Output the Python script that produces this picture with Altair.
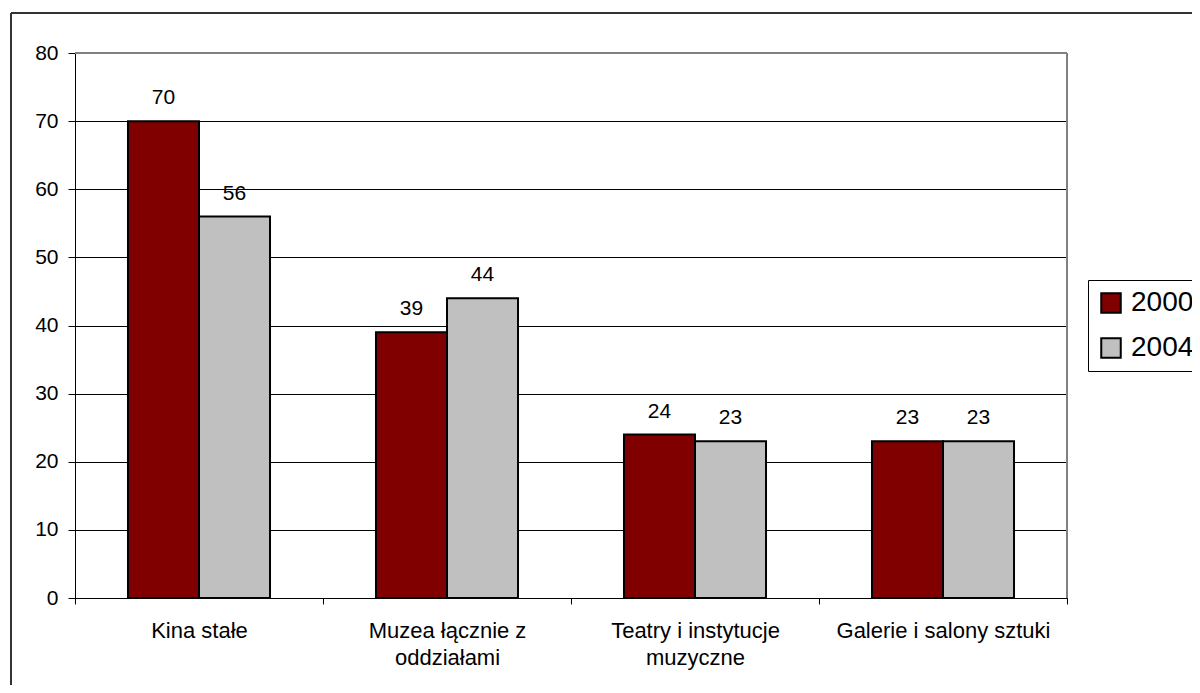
import altair as alt
import pandas as pd

categories = ["Kina stałe", "Muzea łącznie z\noddziałami", "Teatry i instytucje\nmuzyczne", "Galerie i salony sztuki"]
years = ["2000", "2004"]
values_2000 = [70, 39, 24, 23]
values_2004 = [56, 44, 23, 23]
colors = ["#800000", "#C0C0C0"]
y_ticks = [0, 10, 20, 30, 40, 50, 60, 70, 80]

rows = []
for c, a, b in zip(categories, values_2000, values_2004):
    rows.append({"cat": c, "year": years[0], "value": a})
    rows.append({"cat": c, "year": years[1], "value": b})
df = pd.DataFrame(rows)

W, H = 992, 545
FONT = "Liberation Sans"

x_enc = alt.X(
    "cat:N",
    sort=categories,
    scale=alt.Scale(paddingInner=0, paddingOuter=0),
    axis=alt.Axis(
        title=None,
        labelAngle=0,
        labelExpr="split(datum.label, '\\n')",
        tickBand="extent",
        tickSize=6,
        tickColor="black",
        domainColor="black",
        labelPadding=16,
        labelFontSize=22,
        labelFont=FONT,
        labelColor="black",
        labelLineHeight=27,
        labelBaseline="top",
        labelLimit=400,
    ),
)
xoff = alt.XOffset("year:N", sort=years, scale=alt.Scale(paddingInner=0, paddingOuter=0.746))
y_enc = alt.Y(
    "value:Q",
    scale=alt.Scale(domain=[0, 80], nice=False),
    axis=alt.Axis(
        title=None,
        values=y_ticks,
        grid=True,
        gridColor="black",
        gridWidth=1,
        domainColor="black",
        tickColor="black",
        tickSize=7,
        labelPadding=10,
        labelFontSize=21,
        labelFont=FONT,
        labelColor="black",
    ),
)

bars = alt.Chart(df).mark_bar(stroke="black", strokeWidth=2, opacity=1).encode(
    x=x_enc,
    xOffset=xoff,
    y=y_enc,
    color=alt.Color(
        "year:N",
        scale=alt.Scale(domain=years, range=colors),
        legend=alt.Legend(
            title=None,
            orient="none",
            legendX=1013,
            legendY=227,
            symbolType="square",
            symbolSize=380,
            symbolStrokeColor="black",
            symbolStrokeWidth=2,
            symbolOpacity=1,
            labelFontSize=28,
            labelFont=FONT,
            labelColor="black",
            labelOffset=6,
            labelLimit=300,
            rowPadding=17,
            padding=9,
            strokeColor="black",
        ),
    ),
)

labels = alt.Chart(df).mark_text(
    dy=-17, baseline="alphabetic", fontSize=21, font=FONT, color="black"
).encode(
    x=alt.X("cat:N", sort=categories),
    xOffset=alt.XOffset("year:N", sort=years),
    y="value:Q",
    text="value:Q",
)

frame_top = alt.Chart(df).mark_rule(color="#808080", strokeWidth=2).encode(
    x=alt.value(0), x2=alt.value(W), y=alt.value(0)
)
frame_right = alt.Chart(df).mark_rule(color="#808080", strokeWidth=2).encode(
    x=alt.value(W), y=alt.value(0), y2=alt.value(H)
)
outer_top = alt.Chart(df).mark_rule(color="#333333", strokeWidth=2).encode(
    x=alt.value(-64), x2=alt.value(W + 300), y=alt.value(-40)
)
outer_left = alt.Chart(df).mark_rule(color="#333333", strokeWidth=2).encode(
    x=alt.value(-64), y=alt.value(-40), y2=alt.value(H + 200)
)

chart = alt.layer(bars, labels, frame_top, frame_right, outer_top, outer_left).properties(
    width=W,
    height=H,
    autosize=alt.AutoSizeParams(type="none"),
    padding={"left": 67, "top": 45, "right": 125, "bottom": 87},
).configure_view(stroke=None).configure(background="white")

chart.save("out.html", embed_options={"renderer": "svg", "actions": False})
